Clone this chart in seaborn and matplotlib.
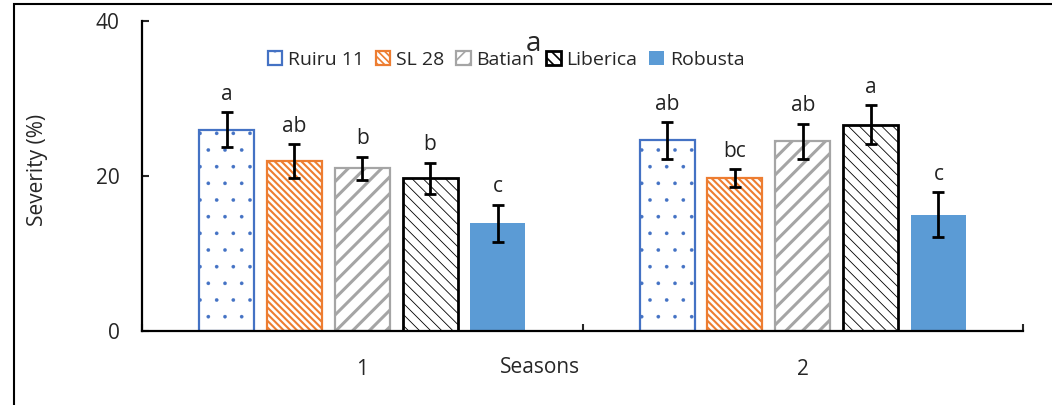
import numpy as np
import pandas as pd
import matplotlib
matplotlib.use("Agg")
import matplotlib.pyplot as plt
import seaborn as sns

# ---- data ----
seasons = ["1", "2"]
cultivars = ["Ruiru 11", "SL 28", "Batian", "Liberica", "Robusta"]
severity_s1 = [26.0, 21.9, 21.0, 19.7, 13.9]
severity_s2 = [24.6, 19.7, 24.5, 26.6, 15.0]
se_s1 = [2.2, 2.2, 1.5, 2.0, 2.4]
se_s2 = [2.35, 1.15, 2.25, 2.5, 2.9]
letters_s1 = ["a", "ab", "b", "b", "c"]
letters_s2 = ["ab", "bc", "ab", "a", "c"]
y_ticks = [0, 20, 40]

df = pd.DataFrame({
    "Season": [seasons[0]] * 5 + [seasons[1]] * 5,
    "Cultivar": cultivars * 2,
    "Severity": severity_s1 + severity_s2,
})
se = {seasons[0]: se_s1, seasons[1]: se_s2}
letters = {seasons[0]: letters_s1, seasons[1]: letters_s2}

# ---- style ----
sns.set_style("white")
plt.rcParams["font.family"] = ["Open Sans", "DejaVu Sans"]
plt.rcParams["hatch.linewidth"] = 1.2

styles = {
    "Ruiru 11": dict(fc="white", ec="#4472C4", hatch=".", lw=1.6, hlw=0.2),
    "SL 28": dict(fc="white", ec="#ED7D31", hatch="\\\\\\\\\\", lw=1.6, hlw=1.5),
    "Batian": dict(fc="white", ec="#A5A5A5", hatch="//", lw=1.6, hlw=2.2),
    "Liberica": dict(fc="white", ec="black", hatch="\\\\\\", lw=2.0, hlw=0.6),
    "Robusta": dict(fc="#5B9BD5", ec="#5B9BD5", hatch=None, lw=0.0, hlw=1.0),
}

fig = plt.figure(figsize=(10.52, 4.05), dpi=100)
ax = fig.add_axes([142 / 1052, 1 - 331 / 405, 881 / 1052, 310 / 405])

sns.barplot(data=df, x="Season", y="Severity", hue="Cultivar",
            order=seasons, hue_order=cultivars, width=0.77, gap=0.19,
            errorbar=None, legend=False, ax=ax)

bar_containers = list(ax.containers)
handles = []
for cult, cont in zip(cultivars, bar_containers):
    st = styles[cult]
    for p in cont.patches:
        p.set_facecolor(st["fc"])
        p.set_edgecolor(st["ec"])
        p.set_linewidth(st["lw"])
        if st["hatch"]:
            p.set_hatch(st["hatch"])
            if hasattr(p, "set_hatch_linewidth"):
                p.set_hatch_linewidth(st["hlw"])
    handles.append(cont.patches[0])

for ci, (cult, cont) in enumerate(zip(cultivars, bar_containers)):
    xs, ys, es = [], [], []
    for si, p in enumerate(cont.patches):
        xs.append(p.get_x() + p.get_width() / 2)
        ys.append(p.get_height())
        es.append(se[seasons[si]][ci])
    ax.errorbar(xs, ys, yerr=es, fmt="none", ecolor="black", elinewidth=2,
                capsize=4.5, capthick=2, zorder=5)
    for si in range(len(xs)):
        ax.text(xs[si], ys[si] + es[si] + 1.6, letters[seasons[si]][ci],
                ha="center", va="baseline", fontsize=15, color="#222222")

ax.set_xlim(-0.5, 1.5)
ax.set_ylim(0, 40)
ax.set_yticks(y_ticks)
ax.set_xticks([0, 1])
ax.set_xticklabels(seasons)
ax.set_xticks([-0.5, 0.5, 1.5], minor=True)
ax.tick_params(axis="x", which="major", length=0, pad=20, labelsize=15)
ax.tick_params(axis="x", which="minor", direction="in", length=5, width=1.5,
               bottom=True)
ax.tick_params(axis="y", direction="in", length=5, width=1.5, pad=16,
               labelsize=15, left=True)
for s in ["top", "right"]:
    ax.spines[s].set_visible(False)
for s in ["left", "bottom"]:
    ax.spines[s].set_linewidth(1.6)
    ax.spines[s].set_color("black")

ax.set_ylabel("Severity (%)", fontsize=15)
ax.yaxis.set_label_coords(-0.107, 0.52)
ax.set_xlabel("Seasons", fontsize=15)
ax.xaxis.set_label_coords(0.452, -0.085)

fig.text(533 / 1052, 1 - 44 / 405, "a", ha="center", va="center", fontsize=20)

ax.legend(handles, cultivars, loc="center",
          bbox_to_anchor=(506 / 1052, 1 - 60 / 405),
          bbox_transform=fig.transFigure, ncol=5, frameon=False,
          handlelength=0.75, handleheight=0.75, handletextpad=0.3,
          columnspacing=0.6, fontsize=14, borderaxespad=0, borderpad=0)

fig.add_artist(plt.Rectangle((14 / 1052, -0.1), 1.2, (1 - 4 / 405) + 0.1,
                             transform=fig.transFigure, fill=False,
                             ec="black", lw=1.5, clip_on=False))

fig.savefig("out.png", dpi=100)
